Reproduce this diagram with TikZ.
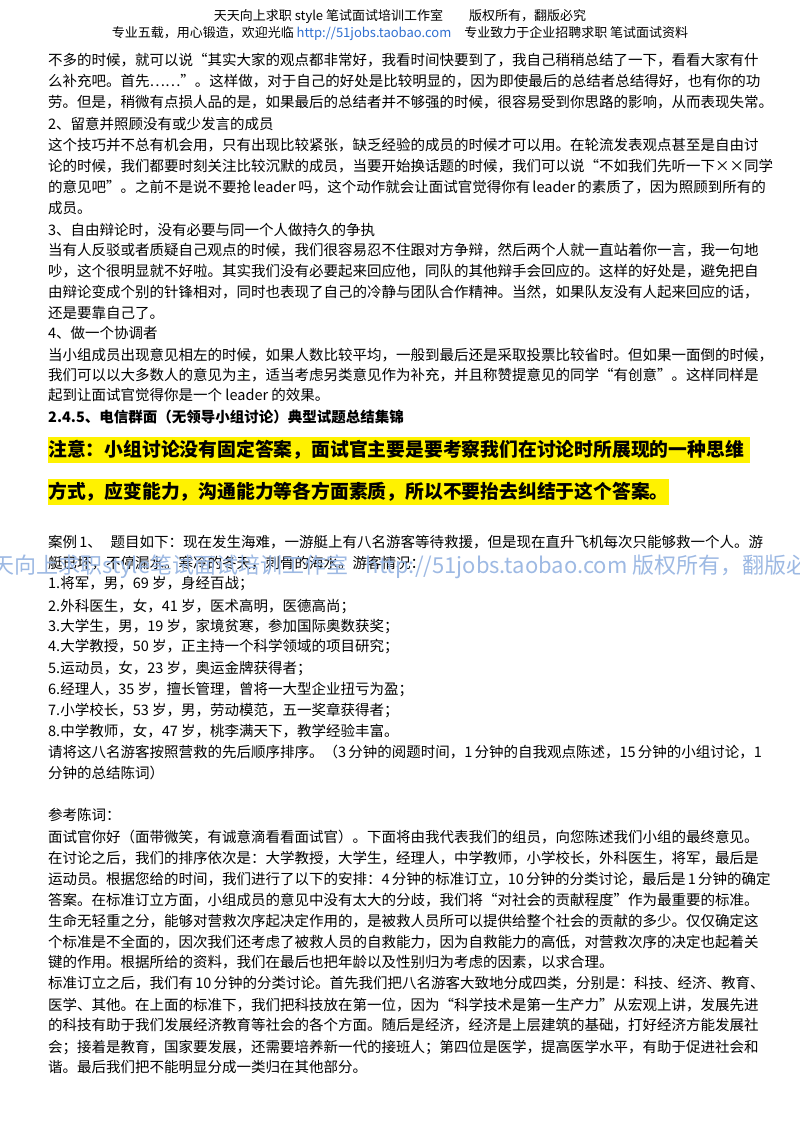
\documentclass[tikz,border=0pt]{standalone}
\usepackage{fontspec}
\setmainfont{Noto Sans CJK SC}
\XeTeXlinebreaklocale "zh"
\XeTeXlinebreakskip=0pt plus 4pt
\newcommand\fl[2][702pt]{\makebox[#1][s]{#2}}
\definecolor{linkblue}{HTML}{2F6FD0}
\definecolor{wm}{HTML}{9DB9E3}
\begin{document}
\begin{tikzpicture}[x=1pt,y=-1pt,
  body/.style={anchor=west,inner sep=0pt,font=\fontsize{14.5}{17}\selectfont},
  hdr/.style={anchor=center,inner sep=0pt,font=\fontsize{13}{15}\selectfont},
  hl/.style={anchor=west,inner xsep=0pt,inner ysep=3pt,fill=yellow,font=\fontsize{18.8}{22}\selectfont\bfseries}]
\useasboundingbox (0,0) rectangle (800,1132);
\node[hdr] (h1) at (400,16) {天天向上求职 style 笔试面试培训工作室\hspace{2em}版权所有，翻版必究};
\node[hdr] (h2) at (400,34) {专业五载，用心锻造，欢迎光临 \textcolor{linkblue}{http://51jobs.taobao.com}\hspace{1em}专业致力于企业招聘求职 笔试面试资料};
\node[body] (l1) at (48,60) {\fl{不多的时候，就可以说“其实大家的观点都非常好，我看时间快要到了，我自己稍稍总结了一下，看看大家有什}};
\node[body] (l2) at (48,81) {\fl{么补充吧。首先……”。这样做，对于自己的好处是比较明显的，因为即使最后的总结者总结得好，也有你的功}};
\node[body] (l3) at (48,102) {\fl{劳。但是，稍微有点损人品的是，如果最后的总结者并不够强的时候，很容易受到你思路的影响，从而表现失常。}};
\node[body] (l4) at (48,124) {2、留意并照顾没有或少发言的成员};
\node[body] (l5) at (48,145) {\fl{这个技巧并不总有机会用，只有出现比较紧张，缺乏经验的成员的时候才可以用。在轮流发表观点甚至是自由讨}};
\node[body] (l6) at (48,166) {\fl{论的时候，我们都要时刻关注比较沉默的成员，当要开始换话题的时候，我们可以说“不如我们先听一下××同学}};
\node[body] (l7) at (48,187) {\fl{的意见吧”。之前不是说不要抢 leader 吗，这个动作就会让面试官觉得你有 leader 的素质了，因为照顾到所有的}};
\node[body] (l8) at (48,208) {成员。};
\node[body] (l9) at (48,230) {3、自由辩论时，没有必要与同一个人做持久的争执};
\node[body] (l10) at (48,250) {\fl{当有人反驳或者质疑自己观点的时候，我们很容易忍不住跟对方争辩，然后两个人就一直站着你一言，我一句地}};
\node[body] (l11) at (48,271) {\fl{吵，这个很明显就不好啦。其实我们没有必要起来回应他，同队的其他辩手会回应的。这样的好处是，避免把自}};
\node[body] (l12) at (48,292) {\fl{由辩论变成个别的针锋相对，同时也表现了自己的冷静与团队合作精神。当然，如果队友没有人起来回应的话，}};
\node[body] (l13) at (48,313) {还是要靠自己了。};
\node[body] (l14) at (48,333) {4、做一个协调者};
\node[body] (l15) at (48,355) {\fl[711pt]{当小组成员出现意见相左的时候，如果人数比较平均，一般到最后还是采取投票比较省时。但如果一面倒的时候，}};
\node[body] (l16) at (48,375) {\fl{我们可以以大多数人的意见为主，适当考虑另类意见作为补充，并且称赞提意见的同学“有创意”。这样同样是}};
\node[body] (l17) at (48,395) {起到让面试官觉得你是一个 leader 的效果。};
\node[body,font=\fontsize{14.5}{17}\selectfont\bfseries] (sec) at (48,417) {2.4.5、电信群面（无领导小组讨论）典型试题总结集锦};
\node[hl] (n1) at (48,450) {\fl{注意：小组讨论没有固定答案，面试官主要是要考察我们在讨论时所展现的一种思维}};
\node[hl] (n2) at (48,492) {方式，应变能力，沟通能力等各方面素质，所以不要抬去纠结于这个答案。};
\node[body] (c1) at (48,542) {\fl{案例 1、\hspace{0.6em}题目如下：现在发生海难，一游艇上有八名游客等待救援，但是现在直升飞机每次只能够救一个人。游}};
\node[body] (c2) at (48,563) {艇已坏，不停漏水。寒冷的冬天，刺骨的海水。游客情况：};
\node[body] (p1) at (48,584) {1.将军，男，69 岁，身经百战；};
\node[body] (p2) at (48,606) {2.外科医生，女，41 岁，医术高明，医德高尚；};
\node[body] (p3) at (48,627) {3.大学生，男，19 岁，家境贫寒，参加国际奥数获奖；};
\node[body] (p4) at (48,647) {4.大学教授，50 岁，正主持一个科学领域的项目研究；};
\node[body] (p5) at (48,668) {5.运动员，女，23 岁，奥运金牌获得者；};
\node[body] (p6) at (48,690) {6.经理人，35 岁，擅长管理，曾将一大型企业扭亏为盈；};
\node[body] (p7) at (48,710) {7.小学校长，53 岁，男，劳动模范，五一奖章获得者；};
\node[body] (p8) at (48,731) {8.中学教师，女，47 岁，桃李满天下，教学经验丰富。};
\node[body] (q1) at (48,752) {\fl{请将这八名游客按照营救的先后顺序排序。（3 分钟的阅题时间，1 分钟的自我观点陈述，15 分钟的小组讨论，1}};
\node[body] (q2) at (48,773) {分钟的总结陈词）};
\node[body] (r0) at (48,815) {参考陈词：};
\node[body] (r1) at (48,837) {\fl{面试官你好（面带微笑，有诚意滴看看面试官）。下面将由我代表我们的组员，向您陈述我们小组的最终意见。}};
\node[body] (r2) at (48,858) {\fl{在讨论之后，我们的排序依次是：大学教授，大学生，经理人，中学教师，小学校长，外科医生，将军，最后是}};
\node[body] (r3) at (48,879) {\fl{运动员。根据您给的时间，我们进行了以下的安排：4 分钟的标准订立，10 分钟的分类讨论，最后是 1 分钟的确定}};
\node[body] (r4) at (48,900) {\fl{答案。在标准订立方面，小组成员的意见中没有太大的分歧，我们将“对社会的贡献程度”作为最重要的标准。}};
\node[body] (r5) at (48,921) {\fl{生命无轻重之分，能够对营救次序起决定作用的，是被救人员所可以提供给整个社会的贡献的多少。仅仅确定这}};
\node[body] (r6) at (48,942) {\fl{个标准是不全面的，因次我们还考虑了被救人员的自救能力，因为自救能力的高低，对营救次序的决定也起着关}};
\node[body] (r7) at (48,962) {键的作用。根据所给的资料，我们在最后也把年龄以及性别归为考虑的因素，以求合理。};
\node[body] (r8) at (48,983) {\fl{标准订立之后，我们有 10 分钟的分类讨论。首先我们把八名游客大致地分成四类，分别是：科技、经济、教育、}};
\node[body] (r9) at (48,1005) {\fl{医学、其他。在上面的标准下，我们把科技放在第一位，因为“科学技术是第一生产力”从宏观上讲，发展先进}};
\node[body] (r10) at (48,1025) {\fl{的科技有助于我们发展经济教育等社会的各个方面。随后是经济，经济是上层建筑的基础，打好经济方能发展社}};
\node[body] (r11) at (48,1047) {\fl{会；接着是教育，国家要发展，还需要培养新一代的接班人；第四位是医学，提高医学水平，有助于促进社会和}};
\node[body] (r12) at (48,1067) {谐。最后我们把不能明显分成一类归在其他部分。};
\begin{scope}
\clip (0,0) rectangle (800,1132);
\node[anchor=west,inner sep=0pt,text=wm,font=\fontsize{22}{24}\selectfont] (wmk) at (-30,567) {天天向上求职style笔试面试培训工作室\hspace{0.8em}http://51jobs.taobao.com 版权所有，翻版必究};
\end{scope}
\end{tikzpicture}
\end{document}
